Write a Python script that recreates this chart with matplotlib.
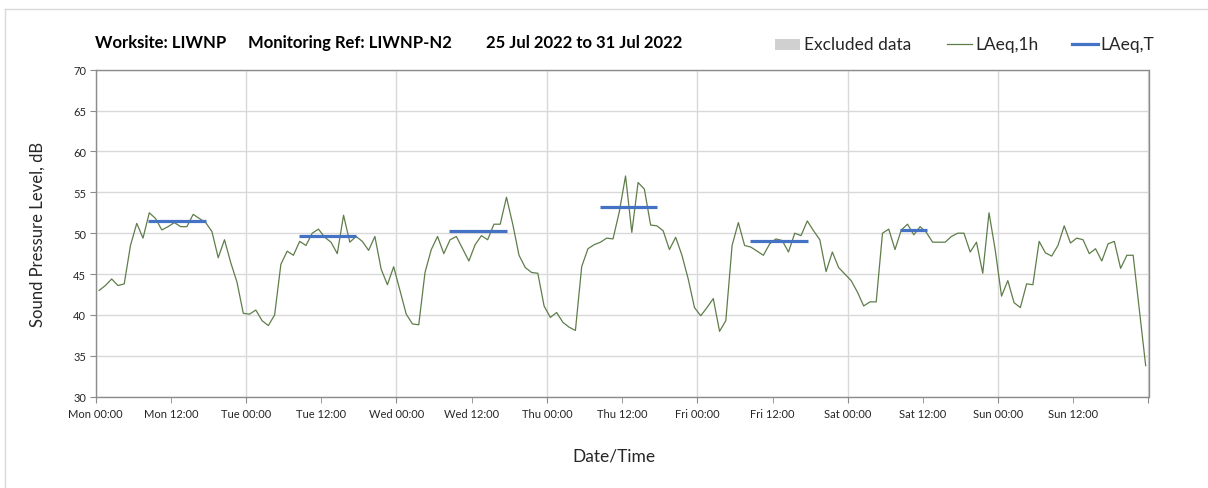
import numpy as np
import matplotlib
matplotlib.use("Agg")
import matplotlib.pyplot as plt
from matplotlib.lines import Line2D
from matplotlib.patches import Rectangle

plt.rcParams['font.family'] = ['Lato', 'DejaVu Sans']

# ---------------- data ----------------
day_names = ["Mon", "Tue", "Wed", "Thu", "Fri", "Sat", "Sun"]

laeq_mon = [43.0, 43.6, 44.4, 43.6, 43.8, 48.5, 51.2, 49.4, 52.5, 51.8, 50.4, 50.8,
            51.3, 50.8, 50.8, 52.3, 51.8, 51.3, 50.2, 47.0, 49.2, 46.4, 44.0, 40.2]
laeq_tue = [40.1, 40.6, 39.3, 38.7, 40.0, 46.2, 47.8, 47.3, 49.0, 48.5, 50.0, 50.5,
            49.5, 48.9, 47.5, 52.2, 48.9, 49.6, 49.0, 47.9, 49.6, 45.6, 43.7, 45.9]
laeq_wed = [43.0, 40.1, 38.9, 38.8, 45.2, 48.0, 49.6, 47.5, 49.2, 49.6, 48.1, 46.6,
            48.6, 49.7, 49.2, 51.1, 51.1, 54.4, 51.1, 47.3, 45.8, 45.2, 45.1, 41.1]
laeq_thu = [39.7, 40.3, 39.1, 38.5, 38.1, 45.9, 48.1, 48.6, 48.9, 49.4, 49.3, 52.6,
            57.0, 50.1, 56.2, 55.4, 51.0, 50.9, 50.3, 48.0, 49.5, 47.3, 44.4, 40.9]
laeq_fri = [39.9, 40.9, 42.0, 38.0, 39.3, 48.5, 51.3, 48.5, 48.3, 47.8, 47.3, 48.7,
            49.3, 49.1, 47.7, 50.0, 49.7, 51.5, 50.3, 49.2, 45.3, 47.7, 45.8, 45.0]
laeq_sat = [44.2, 42.8, 41.1, 41.6, 41.6, 50.0, 50.5, 48.0, 50.4, 51.1, 49.8, 50.8,
            50.1, 48.9, 48.9, 48.9, 49.6, 50.0, 50.0, 47.7, 48.9, 45.1, 52.5, 47.9]
laeq_sun = [42.3, 44.2, 41.5, 40.9, 43.8, 43.7, 49.0, 47.6, 47.2, 48.5, 50.9, 48.8,
            49.4, 49.2, 47.5, 48.1, 46.6, 48.7, 49.0, 45.7, 47.3, 47.3, 40.5, 33.8]

# LAeq,T periods (hours from Mon 00:00)
period_start_h = [8.4, 32.4, 56.4, 80.4, 104.4, 128.4]
period_end_h = [17.6, 41.6, 65.6, 89.6, 113.6, 132.6]
laeq_T = [51.45, 49.65, 50.27, 53.25, 49.1, 50.4]

# ---------------- figure ----------------
W, H = 1208, 489
fig = plt.figure(figsize=(W / 100, H / 100), dpi=100)
ax = fig.add_axes([95.7 / W, 1 - 397.7 / H, (1148.5 - 95.7) / W, (397.7 - 70.7) / H])

laeq_1h = np.array(laeq_mon + laeq_tue + laeq_wed + laeq_thu + laeq_fri + laeq_sat + laeq_sun)
hours = np.arange(len(laeq_1h)) + 0.55

green = "#5f7d4a"
blue = "#4472c4"
grid_c = "#d9d9d9"
spine_c = "#8c8c8c"
text_c = "#262626"

ax.plot(hours, laeq_1h, color=green, lw=0.9, zorder=3)
for s, e, v in zip(period_start_h, period_end_h, laeq_T):
    ax.plot([s, e], [v, v], color=blue, lw=2.3, solid_capstyle='butt', zorder=4)

ax.set_xlim(0, 168)
ax.set_ylim(30, 70)
ax.set_yticks(np.arange(30, 71, 5))
ax.tick_params(axis='y', labelsize=8, length=4, color=spine_c, labelcolor=text_c, pad=3)

major = np.arange(0, 169, 24)
minor = np.arange(12, 168, 24)
ax.set_xticks(major)
ax.set_xticklabels([f"{d} 00:00" for d in day_names] + [""])
ax.set_xticks(minor, minor=True)
ax.set_xticklabels([f"{d} 12:00" for d in day_names], minor=True)
ax.tick_params(axis='x', which='both', labelsize=8, length=4, color=spine_c,
               labelcolor=text_c, pad=4)

ax.grid(True, which='major', axis='both', color=grid_c, lw=1.0, zorder=0)
ax.set_axisbelow(True)
for sp in ax.spines.values():
    sp.set_color(spine_c)
    sp.set_linewidth(1.0)

ax.set_ylabel("Sound Pressure Level, dB", fontsize=12, color=text_c, labelpad=20)
ax.set_xlabel("Date/Time", fontsize=12.5, color=text_c, labelpad=20)
ax.xaxis.set_label_coords(0.492, -0.155)

# title pieces
ty = 1 - 43 / H
tkw = dict(fontsize=12, fontweight='bold', va='center', color='black')
fig.text(95 / W, ty, "Worksite: LIWNP", **tkw)
fig.text(248 / W, ty, "Monitoring Ref: LIWNP-N2", **tkw)
fig.text(486 / W, ty, "25 Jul 2022 to 31 Jul 2022", **tkw)

# legend
ly = 1 - 45 / H
fig.patches.append(Rectangle((775 / W, 1 - 51 / H), 25 / W, 11 / H, transform=fig.transFigure,
                             facecolor="#d0d0d0", edgecolor='none'))
fig.text(804 / W, ly, "Excluded data", fontsize=12.5, va='center', color=text_c)
fig.lines.append(Line2D([947 / W, 972 / W], [ly, ly], transform=fig.transFigure, color=green, lw=0.9))
fig.text(975 / W, ly, "LAeq,1h", fontsize=12.5, va='center', color=text_c)
fig.lines.append(Line2D([1072 / W, 1098 / W], [ly, ly], transform=fig.transFigure, color=blue, lw=2.3))
fig.text(1100 / W, ly, "LAeq,T", fontsize=12.5, va='center', color=text_c)

# outer border
bx, by = 5 / W, 1 - 10 / H
fig.lines.append(Line2D([bx, 1.0], [by, by], transform=fig.transFigure, color="#d9d9d9", lw=1))
fig.lines.append(Line2D([bx, bx], [0, by], transform=fig.transFigure, color="#d9d9d9", lw=1))

fig.savefig("out.png", dpi=100)
